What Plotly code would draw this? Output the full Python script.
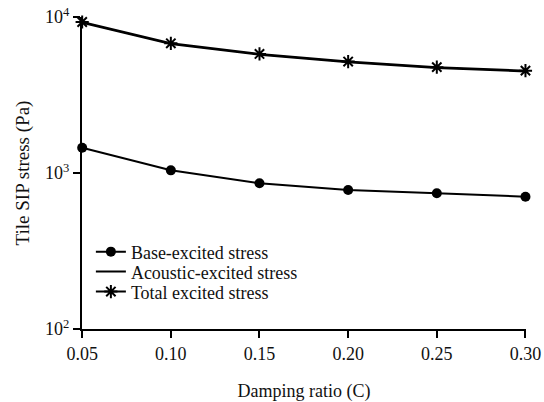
import plotly.graph_objects as go

# Damping ratio values and the stresses computed at each one
damping = [0.05, 0.10, 0.15, 0.20, 0.25, 0.30]
base_stress = [1452, 1040, 859, 778, 741, 705]
acoustic_stress = [9176, 6700, 5730, 5120, 4715, 4475]
total_stress = [9290, 6780, 5795, 5180, 4770, 4530]

y_tick_vals = [100, 1000, 10000]
y_tick_text = ["10<sup>2</sup>", "10<sup>3</sup>", "10<sup>4</sup>"]
x_tick_vals = [0.05, 0.10, 0.15, 0.20, 0.25, 0.30]
x_tick_text = ["0.05", "0.10", "0.15", "0.20", "0.25", "0.30"]

FONT = "Liberation Serif"

fig = go.Figure()
fig.add_trace(go.Scatter(
    x=damping, y=base_stress, mode="lines+markers", name="Base-excited stress",
    line=dict(color="black", width=2),
    marker=dict(symbol="circle", size=10, color="black"),
    cliponaxis=False, legend="legend",
))
fig.add_trace(go.Scatter(
    x=damping, y=acoustic_stress, mode="lines", name="Acoustic-excited stress",
    line=dict(color="black", width=2),
    cliponaxis=False, legend="legend2",
))
fig.add_trace(go.Scatter(
    x=damping, y=total_stress, mode="lines+markers", name="Total excited stress",
    line=dict(color="black", width=2),
    marker=dict(symbol="asterisk-open", size=11, color="black",
                line=dict(color="black", width=2)),
    cliponaxis=False, legend="legend3",
))

# one legend box per series so the rows can sit close together
legend_common = dict(x=0.02, xanchor="left", yanchor="middle",
                     bgcolor="rgba(0,0,0,0)",
                     font=dict(family=FONT, size=18, color="#111"),
                     itemwidth=30)

fig.update_layout(
    width=544, height=402,
    margin=dict(l=82, r=18, t=17, b=73),
    paper_bgcolor="white", plot_bgcolor="white",
    font=dict(family=FONT, size=18, color="#111"),
    showlegend=True,
    legend=dict(y=0.247, **legend_common),
    legend2=dict(y=0.183, **legend_common),
    legend3=dict(y=0.119, **legend_common),
    xaxis=dict(
        range=[0.0499, 0.3003], tickvals=x_tick_vals, ticktext=x_tick_text,
        showline=True, linecolor="black", linewidth=2,
        ticks="outside", ticklen=7, tickwidth=2, tickcolor="black",
        ticklabelstandoff=0, tickfont=dict(family=FONT, size=18),
        showgrid=False, zeroline=False, automargin=False,
        title=dict(text="Damping ratio (C)", standoff=28,
                   font=dict(family=FONT, size=18)),
    ),
    yaxis=dict(
        type="log", range=[2, 4], tickvals=y_tick_vals, ticktext=y_tick_text,
        showline=True, linecolor="black", linewidth=2,
        ticks="outside", ticklen=7, tickwidth=2, tickcolor="black",
        tickfont=dict(family=FONT, size=18),
        showgrid=False, zeroline=False, automargin=False,
        title=dict(text="Tile SIP stress (Pa)", standoff=10,
                   font=dict(family=FONT, size=19)),
    ),
)

fig.write_html("out.html")
